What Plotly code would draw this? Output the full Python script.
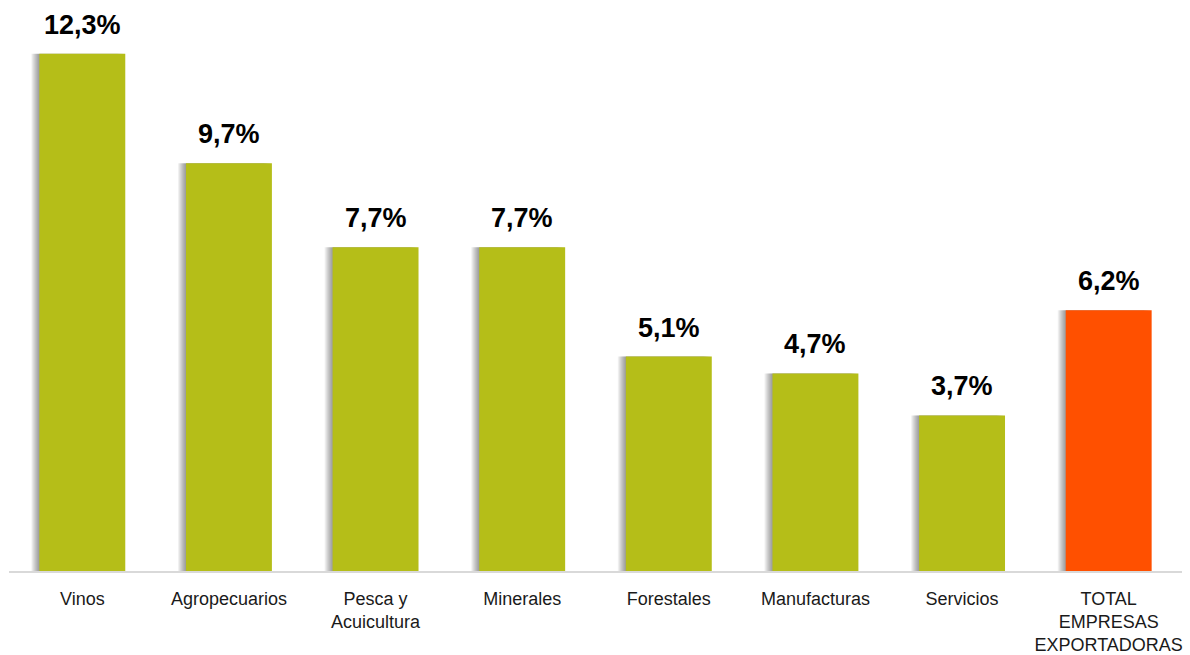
import plotly.graph_objects as go

# Export growth by sector (%)
categories = ["Vinos", "Agropecuarios", "Pesca y<br>Acuicultura", "Minerales",
              "Forestales", "Manufacturas", "Servicios",
              "TOTAL<br>EMPRESAS<br>EXPORTADORAS"]
values = [12.3, 9.7, 7.7, 7.7, 5.1, 4.7, 3.7, 6.2]
value_labels = ["12,3%", "9,7%", "7,7%", "7,7%", "5,1%", "4,7%", "3,7%", "6,2%"]

GREEN = "#B5BE18"
ORANGE = "#FF5000"
colors = [GREEN] * (len(values) - 1) + [ORANGE]

FONT = "Liberation Sans Narrow, Arial Narrow, Liberation Sans, Arial, sans-serif"

x = list(range(len(categories)))
bar_w = 0.586
px = 1 / 146.7  # one pixel in category units

fig = go.Figure()

# soft drop shadow on the left side of each bar
for k in range(1, 9):
    fig.add_trace(go.Bar(
        x=x, y=values, width=bar_w, offset=-bar_w / 2 - k * px,
        marker=dict(color="rgba(0,0,0,0.055)", line=dict(width=0)),
        hoverinfo="skip", showlegend=False,
    ))

fig.add_trace(go.Bar(
    x=x, y=values, width=bar_w, offset=-bar_w / 2,
    marker=dict(color=colors, line=dict(width=0)),
    showlegend=False,
))

for xi, v, lbl in zip(x, values, value_labels):
    fig.add_annotation(
        x=xi, y=v, text=f"<b>{lbl}</b>", showarrow=False,
        yanchor="bottom", yshift=12,
        font=dict(family=FONT, size=27, color="#000000"),
    )

fig.update_layout(
    width=1190, height=655,
    margin=dict(l=9, r=8, t=0, b=84),
    paper_bgcolor="white", plot_bgcolor="white",
    barmode="overlay",
    xaxis=dict(
        range=[-0.5, 7.5], tickvals=x, ticktext=categories,
        showgrid=False, zeroline=False,
        showline=True, linecolor="#D9D9D9", linewidth=2,
        ticks="outside", ticklen=10, tickcolor="rgba(0,0,0,0)",
        ticklabeloverflow="allow",
        tickfont=dict(family=FONT, size=18, color="#1A1A1A"),
    ),
    yaxis=dict(range=[0, 13.58], visible=False),
)

fig.write_html("out.html")
